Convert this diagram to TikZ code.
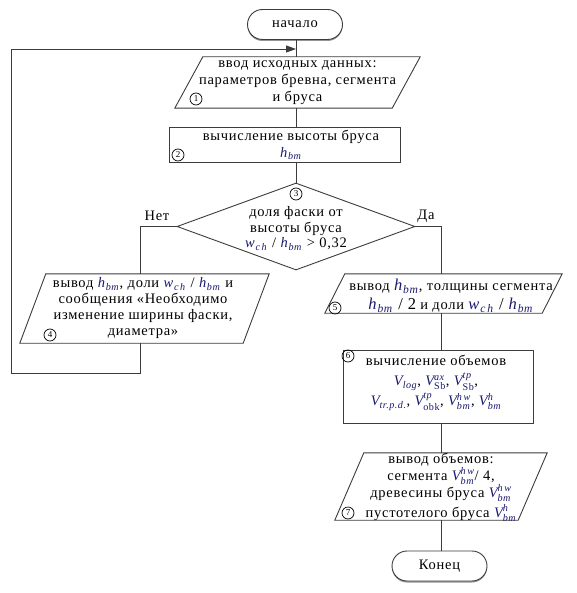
\documentclass[tikz,border=0pt]{standalone}
\usepackage{amsmath}
\usepackage{fontspec}
\setmainfont{Liberation Serif}[LetterSpace=5]
\usetikzlibrary{shapes.geometric,shapes.misc,arrows.meta,shadows}
\definecolor{ln}{RGB}{60,60,60}
\definecolor{varc}{RGB}{25,25,110}
\newcommand{\vv}[1]{\textcolor{varc}{#1}}
\newcommand{\hbm}{\vv{\textit{h}\textsubscript{\textit{bm}}}}
\newcommand{\wch}{\vv{\textit{w}\textsubscript{\textit{c\,h}}}}
\newcommand{\Vss}[2]{\vv{$\textit{V}_{\textit{#1}}^{\textit{#2}}$}}
\newcommand{\Vs}[1]{\vv{$\textit{V}_{\textit{#1}}$}}
\newcommand{\Vsr}[2]{\vv{$\textit{V}_{\textup{#1}}^{\textit{#2}}$}}
\newcommand{\bigv}[1]{{\fontsize{16.5}{19}\selectfont #1}}
\newcommand{\para}[2]{\draw[shp] ([xshift=#2pt]#1.north west) -- (#1.north east) -- ([xshift=-#2pt]#1.south east) -- (#1.south west) -- cycle;}
\begin{document}
\begin{tikzpicture}[x=1pt,y=-1pt,
  every node/.style={font=\fontsize{14.5}{17}\selectfont},
  shp/.style={draw=ln, line width=0.9pt},
  term/.style={shp, rounded rectangle, minimum width=95pt, minimum height=30pt, inner sep=0pt,
     drop shadow={shadow xshift=0pt, shadow yshift=-1.5pt, opacity=0.6, fill=black!70}, fill=white},
  pbox/.style={inner sep=0pt, align=center},
  rbox/.style={shp, inner sep=0pt, align=center},
  num/.style={circle, draw=black, line width=0.7pt, inner sep=0pt, minimum size=12pt, font=\fontsize{9}{9}\selectfont},
  conn/.style={draw=ln, line width=0.9pt},
  lab/.style={inner sep=0pt, font=\fontsize{14.5}{17}\selectfont}
]
\useasboundingbox (0,0) rectangle (576,593);

% start
\node[term] (start) at (295,24.5) {начало};

% 1
\node[pbox, minimum width=245pt, minimum height=51pt] (p1) at (297.5,82.5) {ввод исходных данных:\\параметров бревна, сегмента\\и бруса};
\para{p1}{28}
\node[num] (c1) at (196,99) {1};

% 2
\node[rbox, minimum width=231pt, minimum height=35pt] (b2) at (284.5,144.5) {};
\node[pbox] (b2t) at (291,145) {вычисление высоты бруса\\\hbm};
\node[num] (c2) at (178,155) {2};

% 3
\node[shp, diamond, minimum width=238pt, minimum height=87pt, inner sep=0pt] (d3) at (296,226.5) {};
\node[pbox, font=\fontsize{14.5}{15.5}\selectfont] (d3t) at (296,228.5) {доля фаски от\\высоты бруса\\\wch{} / \hbm{} > 0,32};
\node[num] (c3) at (296,194) {3};

\node[lab] (no) at (157,216) {Нет};
\node[lab] (yes) at (426,216) {Да};

% 4
\node[pbox, minimum width=249pt, minimum height=69pt] (p4) at (144.5,308.5) {};
\para{p4}{26}
\node[pbox, font=\fontsize{14.5}{16}\selectfont] (p4t) at (143,308.5) {вывод \hbm, доли \wch{} / \hbm{} и\\сообщения «Необходимо\\изменение ширины фаски,\\диаметра»};
\node[num] (c4) at (50,335) {4};

% 5
\node[pbox, minimum width=237pt, minimum height=39pt] (p5) at (443.5,293.5) {};
\para{p5}{20}
\node[pbox, font=\fontsize{14.5}{19}\selectfont] (p5t) at (451,296) {вывод \bigv{\hbm}, толщины сегмента\\\bigv{\hbm{} / 2} и доли \bigv{\wch{} / \hbm}};
\node[num] (c5) at (335,308) {5};

% 6
\node[rbox, minimum width=190pt, minimum height=73pt] (b6) at (438,386.5) {};
\node[pbox, font=\fontsize{14.5}{20}\selectfont] (b6t) at (436,383) {вычисление объемов\\\Vs{log}, \Vsr{Sb}{ax}, \Vsr{Sb}{tp},\\\Vs{tr.p.d.}, \Vsr{obk}{tp}, \Vss{bm}{h\,w}, \Vss{bm}{h}};
\node[num] (c6) at (348,356) {6};

% 7
\node[pbox, minimum width=212pt, minimum height=67pt] (p7) at (441,486.5) {};
\para{p7}{29}
\node[pbox, font=\fontsize{14.5}{17}\selectfont] (p7t) at (441,487) {вывод объемов:\\сегмента \Vss{bm}{h\,w}/ 4,\\древесины бруса \Vss{bm}{h\,w}\\[3pt]пустотелого бруса \Vss{bm}{h}};
\node[num] (c7) at (348,513) {7};

% end
\node[term] (end) at (439.5,566) {Конец};

% connectors
\coordinate (mx) at (296,0);
\coordinate (lx) at (140,0);
\coordinate (rx) at (441,0);
\coordinate (lb) at (140,373);
\coordinate (lbl) at (11,373);
\coordinate (ltl) at (11,49);
\coordinate (arr) at (296,49);

\draw[conn] (start.south -| mx) -- (p1.north -| mx);
\draw[conn] (p1.south -| mx) -- (b2.north -| mx);
\draw[conn] (b2.south -| mx) -- (d3.north);
\draw[conn] (d3.west) -- (d3.west -| lx) -- (p4.north -| lx);
\draw[conn] (d3.east) -- (d3.east -| rx) -- (p5.north -| rx);
\draw[conn] (p5.south -| rx) -- (b6.north -| rx);
\draw[conn] (b6.south -| rx) -- (p7.north -| rx);
\draw[conn] (p7.south -| rx) -- (end.north -| rx);
\draw[conn] (p4.south -| lx) -- (lb) -- (lbl) -- (ltl);
\draw[conn, -{Triangle[length=10pt,width=7pt]}] (ltl) -- (arr);
\end{tikzpicture}
\end{document}
